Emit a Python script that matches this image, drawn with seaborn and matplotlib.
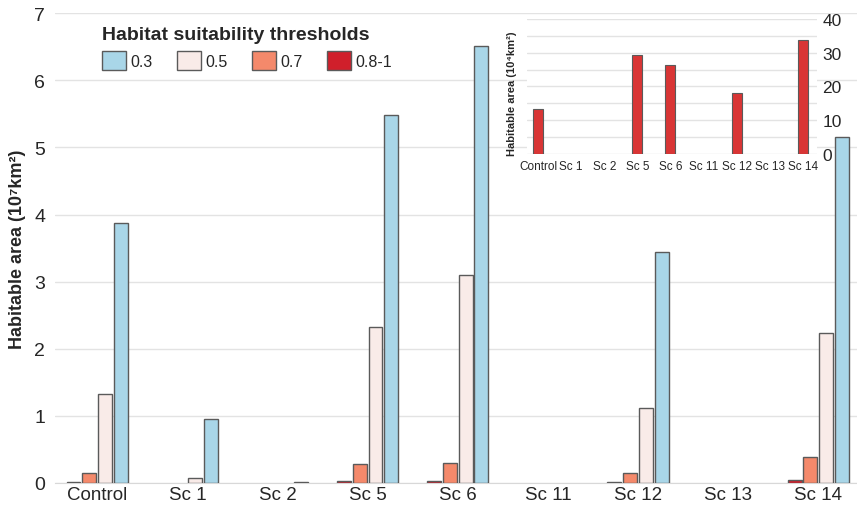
import numpy as np
import pandas as pd
import seaborn as sns
import matplotlib.pyplot as plt
from matplotlib.ticker import MultipleLocator

# scenarios and habitable area (10^7 km2) per suitability threshold (nan = no bar)
nan = np.nan
scenarios = ['Control', 'Sc 1', 'Sc 2', 'Sc 5', 'Sc 6', 'Sc 11', 'Sc 12', 'Sc 13', 'Sc 14']
thr_08 = [0.01, nan, nan, 0.03, 0.03, nan, 0.01, nan, 0.04]
thr_07 = [0.15, nan, nan, 0.29, 0.30, nan, 0.15, nan, 0.38]
thr_05 = [1.33, 0.07, nan, 2.33, 3.10, nan, 1.12, nan, 2.23]
thr_03 = [3.88, 0.96, 0.01, 5.48, 6.51, nan, 3.44, nan, 5.15]

# inset: threshold 0.8-1 in 10^4 km2
inset_vals = [13.3, nan, nan, 29.3, 26.4, nan, 18.0, nan, 33.8]

thresholds = ['0.8-1', '0.7', '0.5', '0.3']
colors = ['#d01f2b', '#f4896b', '#f9ebe8', '#a9d6e8']

df = pd.DataFrame({
    'scenario': scenarios * 4,
    'threshold': [t for t in thresholds for _ in scenarios],
    'area': thr_08 + thr_07 + thr_05 + thr_03,
})
df_in = pd.DataFrame({'scenario': scenarios, 'area': inset_vals})

sns.set_style('white')
plt.rcParams['font.family'] = ['Liberation Sans', 'DejaVu Sans']

fig = plt.figure(figsize=(8.57, 5.06), dpi=100)
ax = fig.add_axes([0.064, 0.0435, 0.936, 0.9285])

sns.barplot(data=df, x='scenario', y='area', hue='threshold', hue_order=thresholds,
            order=scenarios, palette=colors, saturation=1, width=0.7, gap=0.12,
            edgecolor='#5a5a5a', linewidth=1, ax=ax, zorder=3)

ax.set_ylim(0, 7)
ax.set_xlim(-0.47, 8.43)
ax.yaxis.set_major_locator(MultipleLocator(1))
ax.grid(axis='y', color='#e3e3e3', linewidth=1, zorder=0)
ax.set_axisbelow(True)
for s in ['top', 'right', 'left']:
    ax.spines[s].set_visible(False)
ax.spines['bottom'].set_color('#d8d8d8')
ax.tick_params(axis='y', labelsize=14, length=5, color='#e3e3e3', pad=2)
ax.tick_params(axis='x', labelsize=13.5, length=0, pad=2)
ax.set_xlabel('')
ax.set_ylabel('Habitable area (10⁷km²)', fontsize=13, fontweight='bold', labelpad=6)

handles, labels = ax.get_legend_handles_labels()
leg = ax.legend(handles[::-1], labels[::-1], title='Habitat suitability thresholds',
                ncol=4, frameon=False, loc='upper left', bbox_to_anchor=(0.045, 0.997),
                fontsize=11.5, title_fontproperties={'weight': 'bold', 'size': 14},
                handlelength=1.5, handleheight=1.5, handletextpad=0.25, columnspacing=1.55,
                alignment='left', borderaxespad=0.3)

# inset
axin = fig.add_axes([0.615, 0.6937, 0.338, 0.2668])
sns.barplot(data=df_in, x='scenario', y='area', order=scenarios, color='#d93535',
            saturation=1, width=0.3, edgecolor='#5a5a5a', linewidth=0.8, ax=axin, zorder=3)
axin.set_facecolor('white')
axin.set_ylim(0, 40)
axin.set_xlim(-0.33, 8.42)
axin.yaxis.tick_right()
axin.yaxis.set_major_locator(MultipleLocator(10))
axin.yaxis.set_minor_locator(MultipleLocator(5))
axin.grid(axis='y', which='both', color='#e3e3e3', linewidth=1, zorder=0)
axin.set_axisbelow(True)
for s in axin.spines.values():
    s.set_visible(False)
axin.tick_params(axis='y', which='both', labelsize=12.5, length=0, pad=4)
axin.tick_params(axis='x', labelsize=8.5, length=0, pad=4)
axin.set_xlabel('')
axin.set_ylabel('Habitable area (10⁴km²)', fontsize=8, fontweight='bold', labelpad=2)
axin.yaxis.set_label_coords(-0.035, 0.45)

plt.savefig('out.png', dpi=100)
